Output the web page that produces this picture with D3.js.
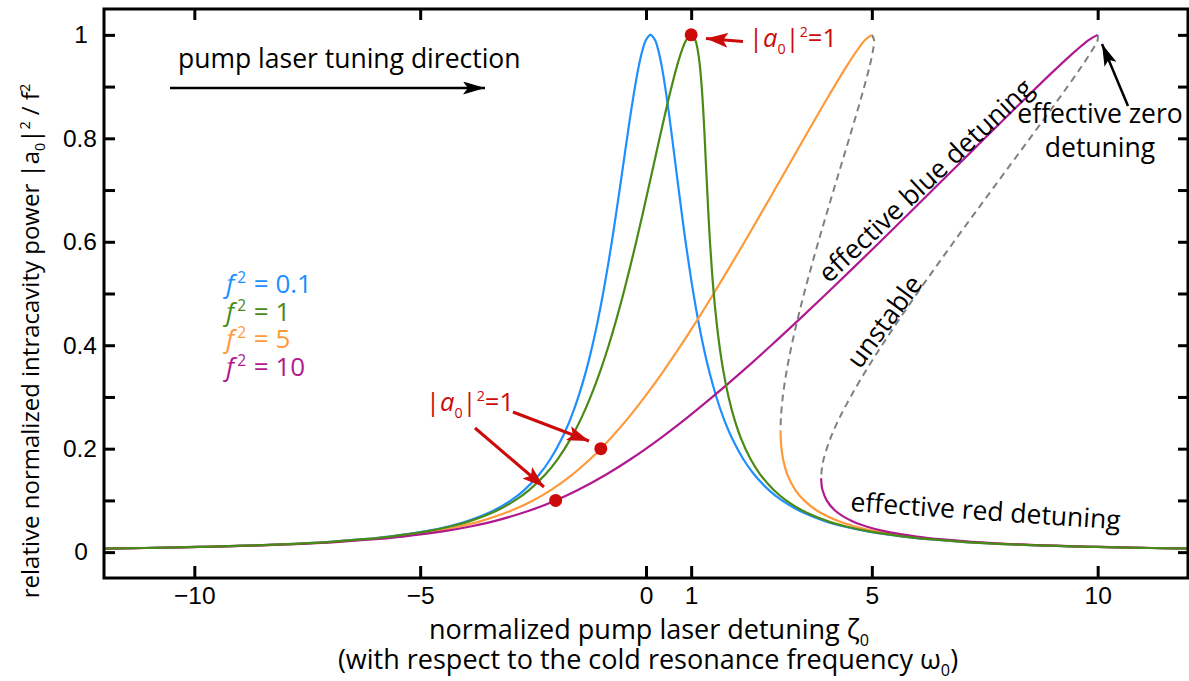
<!DOCTYPE html>
<html>
<head>
<meta charset="utf-8">
<script src="https://cdn.jsdelivr.net/npm/d3@7"></script>
<style>
  body { margin: 0; background: #fff; }
  svg { display: block; }
</style>
</head>
<body>
<svg id="chart" width="1189" height="681"></svg>
<script>
// Kerr-shifted cavity resonance: relative intracavity power |a0|^2/f^2 versus
// normalized pump detuning zeta0, for four pump strengths f^2.
// Each curve is listed as [zeta0, |a0|^2/f^2] points.

// f^2 = 0.1 (nearly symmetric Lorentzian)
const curveF01 = [
  [-12.362,0.0065],[-11.135,0.008],[-9.949,0.01],[-8.887,0.0125],[-8.102,0.015],[-6.998,0.02],
  [-6.243,0.025],[-5.683,0.03],[-4.895,0.04],[-4.354,0.05],[-3.952,0.06],[-3.383,0.08],
  [-2.99,0.10],[-2.696,0.12],[-2.365,0.15],[-2.116,0.18],[-1.861,0.22],[-1.661,0.26],
  [-1.498,0.30],[-1.328,0.35],[-1.185,0.40],[-1.061,0.45],[-0.95,0.50],[-0.85,0.55],
  [-0.756,0.60],[-0.669,0.65],[-0.585,0.70],[-0.502,0.75],[-0.42,0.80],[-0.335,0.85],
  [-0.243,0.90],[-0.159,0.94],[-0.079,0.97],[-0.001,0.99],[0.1,1.0],
  [0.199,0.99],[0.273,0.97],[0.347,0.94],[0.423,0.90],[0.505,0.85],[0.58,0.80],
  [0.652,0.75],[0.725,0.70],[0.799,0.65],[0.876,0.60],[0.96,0.55],[1.05,0.50],
  [1.151,0.45],[1.265,0.40],[1.398,0.35],[1.558,0.30],[1.713,0.26],[1.905,0.22],
  [2.152,0.18],[2.395,0.15],[2.72,0.12],[3.01,0.10],[3.399,0.08],[3.964,0.06],
  [4.364,0.05],[4.903,0.04],[5.689,0.03],[6.248,0.025],[7.002,0.02],[8.105,0.015],
  [8.889,0.0125],[9.951,0.01],[11.137,0.008],[12.364,0.0065]
];

// f^2 = 1 (tilted, still single-valued)
const curveF1 = [
  [-12.357,0.0065],[-11.128,0.008],[-9.94,0.01],[-8.876,0.0125],[-8.088,0.015],[-6.98,0.02],
  [-6.22,0.025],[-5.656,0.03],[-4.859,0.04],[-4.309,0.05],[-3.898,0.06],[-3.311,0.08],
  [-2.9,0.10],[-2.588,0.12],[-2.23,0.15],[-1.954,0.18],[-1.663,0.22],[-1.427,0.26],
  [-1.228,0.30],[-1.013,0.35],[-0.825,0.40],[-0.656,0.45],[-0.5,0.50],[-0.355,0.55],
  [-0.216,0.60],[-0.084,0.65],[0.045,0.70],[0.173,0.75],[0.3,0.80],[0.43,0.85],
  [0.567,0.90],[0.687,0.94],[0.794,0.97],[0.89,0.99],[1.0,1.0],
  [1.09,0.99],[1.146,0.97],[1.193,0.94],[1.233,0.90],[1.27,0.85],[1.3,0.80],
  [1.327,0.75],[1.355,0.70],[1.384,0.65],[1.416,0.60],[1.455,0.55],[1.5,0.50],
  [1.556,0.45],[1.625,0.40],[1.713,0.35],[1.828,0.30],[1.947,0.26],[2.103,0.22],
  [2.314,0.18],[2.53,0.15],[2.828,0.12],[3.1,0.10],[3.471,0.08],[4.018,0.06],
  [4.409,0.05],[4.939,0.04],[5.716,0.03],[6.27,0.025],[7.02,0.02],[8.118,0.015],
  [8.9,0.0125],[9.96,0.01],[11.144,0.008],[12.37,0.0065]
];

// f^2 = 5: upper (blue-detuned) branch up to the peak
const curveF5Upper = [
  [-12.33,0.0065],[-11.096,0.008],[-9.9,0.01],[-8.826,0.0125],[-8.028,0.015],[-6.9,0.02],
  [-6.12,0.025],[-5.536,0.03],[-4.699,0.04],[-4.109,0.05],[-3.658,0.06],[-2.991,0.08],
  [-2.5,0.10],[-2.108,0.12],[-1.63,0.15],[-1.234,0.18],[-1.0,0.20],[-0.783,0.22],
  [-0.387,0.26],[-0.028,0.30],[0.387,0.35],[0.775,0.40],[1.144,0.45],[1.5,0.50],
  [1.845,0.55],[2.184,0.60],[2.516,0.65],[2.845,0.70],[3.173,0.75],[3.5,0.80],
  [3.83,0.85],[4.167,0.90],[4.447,0.94],[4.674,0.97],[4.85,0.99],[5.0,1.0]
];
// f^2 = 5: unstable middle branch
const curveF5Unstable = [
  [5.0,1.0],[5.05,0.99],[5.026,0.97],[4.953,0.94],[4.833,0.90],[4.67,0.85],[4.5,0.80],
  [4.327,0.75],[4.155,0.70],[3.984,0.65],[3.816,0.60],[3.655,0.55],[3.5,0.50],
  [3.356,0.45],[3.225,0.40],[3.113,0.35],[3.028,0.30],[2.987,0.26],[2.979,0.2357]
];
// f^2 = 5: lower (red-detuned) branch
const curveF5Lower = [
  [2.979,0.2357],[2.983,0.22],[2.99,0.21],[3.0,0.20],[3.034,0.18],[3.13,0.15],[3.308,0.12],
  [3.5,0.10],[3.791,0.08],[4.258,0.06],[4.609,0.05],[5.099,0.04],[5.836,0.03],
  [6.37,0.025],[7.1,0.02],[8.178,0.015],[8.951,0.0125],[10.0,0.01],[11.176,0.008],
  [12.396,0.0065]
];

// f^2 = 10: upper branch
const curveF10Upper = [
  [-12.298,0.0065],[-11.056,0.008],[-9.85,0.01],[-8.763,0.0125],[-7.953,0.015],[-6.8,0.02],
  [-5.995,0.025],[-5.386,0.03],[-4.499,0.04],[-3.859,0.05],[-3.358,0.06],[-2.591,0.08],
  [-2.0,0.10],[-1.508,0.12],[-0.88,0.15],[-0.334,0.18],[0.317,0.22],[0.913,0.26],
  [1.472,0.30],[2.137,0.35],[2.775,0.40],[3.394,0.45],[4.0,0.50],[4.595,0.55],
  [5.184,0.60],[5.766,0.65],[6.345,0.70],[6.923,0.75],[7.5,0.80],[8.08,0.85],
  [8.667,0.90],[9.147,0.94],[9.524,0.97],[9.8,0.99],[10.0,1.0]
];
// f^2 = 10: unstable middle branch
const curveF10Unstable = [
  [10.0,1.0],[10.0,0.99],[9.876,0.97],[9.653,0.94],[9.333,0.90],[8.92,0.85],[8.5,0.80],
  [8.077,0.75],[7.655,0.70],[7.234,0.65],[6.816,0.60],[6.405,0.55],[6.0,0.50],
  [5.606,0.45],[5.225,0.40],[4.863,0.35],[4.528,0.30],[4.287,0.26],[4.083,0.22],
  [3.934,0.18],[3.891,0.16],[3.878,0.1429]
];
// f^2 = 10: lower branch
const curveF10Lower = [
  [3.878,0.1429],[3.887,0.13],[3.908,0.12],[4.0,0.10],[4.191,0.08],[4.558,0.06],
  [4.859,0.05],[5.299,0.04],[5.986,0.03],[6.495,0.025],[7.2,0.02],[8.253,0.015],
  [9.013,0.0125],[10.05,0.01],[11.216,0.008],[12.428,0.0065]
];

// points where the intracavity power |a0|^2 equals 1
const unitPowerPoints = [[1, 1], [-1, 0.2], [-2, 0.1]];

const xTickValues = [-10, -5, 0, 1, 5, 10];
const xTickLabels = ["\u221210", "\u22125", "0", "1", "5", "10"];
const yTickValues = [0, 0.1, 0.2, 0.3, 0.4, 0.5, 0.6, 0.7, 0.8, 0.9, 1];
const yTickLabels = ["0", "", "0.2", "", "0.4", "", "0.6", "", "0.8", "", "1"];

const legendLabels = ["0.1", "1", "5", "10"];
const colors = { f01: "#1e8fff", f1: "#4a8a17", f5: "#ff9a3a", f10: "#b0198f" };
const red = "#cc0a0a";

const plotLeft = 104, plotRight = 1188, plotTop = 9, plotBottom = 578;
const textFont = "'Open Sans', 'Noto Sans', sans-serif";
const tickFont = "'Liberation Sans', Arial, sans-serif";
const noteSize = 26.5;

const svg = d3.select("#chart");

const x = d3.scaleLinear().domain([-12, 12]).range([plotLeft, plotRight]);
const y = d3.scaleLinear().domain([-0.05, 1.05]).range([plotBottom, plotTop]);

const defs = svg.append("defs");
defs.append("clipPath").attr("id", "plotClip")
  .append("rect").attr("x", plotLeft).attr("y", plotTop)
  .attr("width", plotRight - plotLeft).attr("height", plotBottom - plotTop);

function arrowMarker(id, color, w, h) {
  defs.append("marker").attr("id", id)
    .attr("viewBox", `0 0 ${w} ${h}`).attr("refX", w).attr("refY", h / 2)
    .attr("markerWidth", w).attr("markerHeight", h)
    .attr("markerUnits", "userSpaceOnUse").attr("orient", "auto")
    .append("path").attr("d", `M0,0 L${w},${h / 2} L0,${h} L${w * 0.22},${h / 2} Z`)
    .attr("fill", color);
}
arrowMarker("arrowBlack", "#000", 22, 13);
arrowMarker("arrowRed", red, 22, 15);

// curves
const line = d3.line().x(d => x(d[0])).y(d => y(d[1])).curve(d3.curveCatmullRom.alpha(0.5));
const plot = svg.append("g").attr("clip-path", "url(#plotClip)");

[curveF5Unstable, curveF10Unstable].forEach(c => {
  plot.append("path").attr("d", line(c)).attr("fill", "none")
    .attr("stroke", "#808080").attr("stroke-width", 2).attr("stroke-dasharray", "7,5");
});

const solids = [
  [curveF01, colors.f01], [curveF5Upper, colors.f5], [curveF5Lower, colors.f5],
  [curveF10Upper, colors.f10], [curveF10Lower, colors.f10], [curveF1, colors.f1]
];
solids.forEach(([c, col]) => {
  plot.append("path").attr("d", line(c)).attr("fill", "none")
    .attr("stroke", col).attr("stroke-width", 2.2).attr("stroke-linejoin", "round");
});

plot.selectAll("circle.unit").data(unitPowerPoints).join("circle")
  .attr("class", "unit").attr("cx", d => x(d[0])).attr("cy", d => y(d[1]))
  .attr("r", 6.5).attr("fill", red);

// frame and axes
svg.append("rect").attr("x", plotLeft).attr("y", plotTop)
  .attr("width", plotRight - plotLeft).attr("height", plotBottom - plotTop)
  .attr("fill", "none").attr("stroke", "#000").attr("stroke-width", 3);

function styleAxis(g) {
  g.select(".domain").remove();
  g.selectAll(".tick line").attr("stroke", "#000").attr("stroke-width", 3);
  g.selectAll(".tick text").attr("font-family", tickFont).attr("font-size", 24.5).attr("fill", "#000");
}
svg.append("g").attr("transform", `translate(0,${plotBottom})`)
  .call(d3.axisBottom(x).tickValues(xTickValues).tickSize(-12).tickPadding(9)
    .tickFormat((d, i) => xTickLabels[i]))
  .call(styleAxis);
svg.append("g").attr("transform", `translate(0,${plotTop})`)
  .call(d3.axisTop(x).tickValues(xTickValues).tickSize(-11).tickFormat(""))
  .call(styleAxis);
const yAxis = svg.append("g").attr("transform", `translate(${plotLeft},0)`)
  .call(d3.axisLeft(y).tickValues(yTickValues).tickSize(-11).tickPadding(7)
    .tickFormat((d, i) => yTickLabels[i]))
  .call(styleAxis);
yAxis.selectAll(".tick text").attr("x", function () {
  return this.textContent.length > 1 ? -7 : -16;
});
svg.append("g").attr("transform", `translate(${plotRight},0)`)
  .call(d3.axisRight(y).tickValues(yTickValues).tickSize(-10).tickFormat(""))
  .call(styleAxis);

// rich text helper: segments with optional italic / subscript / superscript
function richText(parent, segs, opts) {
  const t = parent.append("text")
    .attr("font-family", opts.font || textFont)
    .attr("font-size", opts.size)
    .attr("fill", opts.color || "#000")
    .attr("text-anchor", opts.anchor || "start")
    .attr("transform", `translate(${opts.x},${opts.y}) rotate(${opts.rotate || 0})`);
  let shift = 0;
  segs.forEach(s => {
    const target = s.sub ? opts.size * 0.26 : s.sup ? -opts.size * 0.38 : 0;
    const ts = t.append("tspan").text(s.t);
    if (target !== shift) ts.attr("dy", target - shift);
    if (s.dx) ts.attr("dx", s.dx);
    shift = target;
    if (s.i) ts.attr("font-style", "italic");
    if (s.sub || s.sup) ts.attr("font-size", opts.size * (opts.scriptScale || 0.6));
  });
  return t;
}

// axis titles
richText(svg, [
  { t: "relative normalized intracavity power |a" }, { t: "0", sub: true }, { t: "|" },
  { t: "2", sup: true }, { t: " / f" }, { t: "2", sup: true }
], { x: 39, y: 341, size: 24, anchor: "middle", rotate: -90 });

richText(svg, [{ t: "normalized pump laser detuning \u03b6" }, { t: "0", sub: true }],
  { x: 649, y: 639, size: 27, anchor: "middle" });
richText(svg, [{ t: "(with respect to the cold resonance frequency \u03c9" }, { t: "0", sub: true }, { t: ")" }],
  { x: 648, y: 669, size: 27, anchor: "middle" });

// legend
const legendColors = [colors.f01, colors.f1, colors.f5, colors.f10];
legendLabels.forEach((lab, i) => {
  richText(svg, [{ t: "f", i: true }, { t: "2", sup: true, dx: 3 }, { t: " = " + lab, dx: 1 }],
    { x: 226, y: 293 + i * 27.5, size: 26, color: legendColors[i] });
});

// tuning direction
richText(svg, [{ t: "pump laser tuning direction" }], { x: 178, y: 68, size: noteSize });
svg.append("line").attr("x1", 170).attr("y1", 88).attr("x2", 485).attr("y2", 88)
  .attr("stroke", "#000").attr("stroke-width", 2.5).attr("marker-end", "url(#arrowBlack)");

// |a0|^2 = 1 annotations
const unitLabel = [{ t: "|" }, { t: "a", i: true }, { t: "0", sub: true }, { t: "|" }, { t: "2", sup: true }, { t: "=1" }];
richText(svg, unitLabel, { x: 749, y: 47, size: 25.5, color: red, scriptScale: 0.56 });
svg.append("line").attr("x1", 743).attr("y1", 41.5).attr("x2", 706).attr("y2", 38.5)
  .attr("stroke", red).attr("stroke-width", 3).attr("marker-end", "url(#arrowRed)");

richText(svg, unitLabel, { x: 426, y: 411, size: 25.5, color: red, scriptScale: 0.56 });
svg.append("line").attr("x1", 513).attr("y1", 412).attr("x2", 589).attr("y2", 441)
  .attr("stroke", red).attr("stroke-width", 3).attr("marker-end", "url(#arrowRed)");
svg.append("line").attr("x1", 475).attr("y1", 428).attr("x2", 544).attr("y2", 487)
  .attr("stroke", red).attr("stroke-width", 3).attr("marker-end", "url(#arrowRed)");

// branch labels
richText(svg, [{ t: "effective blue detuning" }], { x: 829, y: 284, size: noteSize, rotate: -43.2 });
richText(svg, [{ t: "unstable" }], { x: 860, y: 370, size: noteSize, rotate: -53.5 });
richText(svg, [{ t: "effective red detuning" }], { x: 850, y: 511, size: noteSize, rotate: 3.9 });
richText(svg, [{ t: "effective zero" }], { x: 1100, y: 123, size: noteSize, anchor: "middle" });
richText(svg, [{ t: "detuning" }], { x: 1100, y: 157, size: noteSize, anchor: "middle" });
svg.append("line").attr("x1", 1128).attr("y1", 106).attr("x2", 1102).attr("y2", 44)
  .attr("stroke", "#000").attr("stroke-width", 2.5).attr("marker-end", "url(#arrowBlack)");
</script>
</body>
</html>
